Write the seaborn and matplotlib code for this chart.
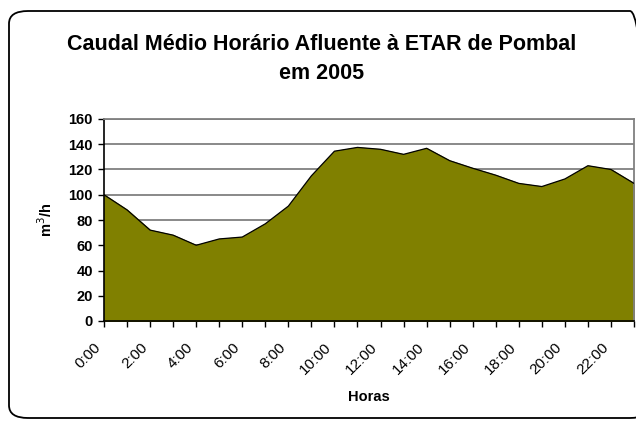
import matplotlib
matplotlib.use("Agg")
import matplotlib.pyplot as plt
import matplotlib.transforms as mtransforms
import seaborn as sns
import pandas as pd
from matplotlib.patches import FancyBboxPatch

horas = list(range(24))
caudal = [100, 88, 72, 68, 60, 65, 66.5, 77, 91, 115, 134.5, 137.5, 136, 132,
          136.8, 127, 121, 115.5, 109, 106.5, 112.5, 123, 120, 109]
tick_labels = [f"{h}:00" if h % 2 == 0 else "" for h in horas]

df = pd.DataFrame({"hora": horas, "caudal": caudal})

sns.set_theme(style="white")
plt.rcParams['font.family'] = ['Liberation Sans', 'DejaVu Sans']
plt.rcParams['text.color'] = 'black'
plt.rcParams['axes.labelcolor'] = 'black'
plt.rcParams['xtick.color'] = 'black'
plt.rcParams['ytick.color'] = 'black'

fig = plt.figure(figsize=(6.36, 4.21), dpi=100)
ax = fig.add_axes([104 / 636, 1 - 321 / 421, 530 / 636, 202 / 421])

# rounded frame around the whole chart
frame = FancyBboxPatch((9 / 636, 3 / 421), 640 / 636, 407 / 421,
                       boxstyle="round,pad=0,rounding_size=0.03",
                       transform=fig.transFigure, fill=False,
                       edgecolor="black", linewidth=1.3, zorder=0)
fig.patches.append(frame)

ax.fill_between(df["hora"], df["caudal"], 0, color="#808000", zorder=2)
sns.lineplot(data=df, x="hora", y="caudal", color="black", linewidth=0.9, ax=ax, zorder=3)

ax.set_xlim(0, 23)
ax.set_ylim(0, 160)
ax.set_yticks(range(0, 161, 20))
ax.yaxis.grid(True, color="#808080", linewidth=1.3, zorder=1)
ax.set_axisbelow(True)

ax.set_xticks(horas)
ax.set_xticklabels(tick_labels, rotation=45, ha="right", rotation_mode="anchor", fontsize=11)
ax.tick_params(axis="x", direction="out", length=4, width=1, bottom=True, pad=5)
ax.tick_params(axis="y", direction="out", length=4, width=1, left=True, pad=4)
# shift the rotated hour labels a bit left/down like the original
shift = mtransforms.ScaledTranslation(-0.10, -0.07, fig.dpi_scale_trans)
for t in ax.get_xticklabels():
    t.set_transform(t.get_transform() + shift)
for t in ax.get_yticklabels():
    t.set_fontweight("bold")
    t.set_fontsize(10.5)

for s in ["left", "bottom"]:
    ax.spines[s].set_color("black")
    ax.spines[s].set_linewidth(1.2)
for s in ["top", "right"]:
    ax.spines[s].set_color("#808080")
    ax.spines[s].set_linewidth(1.3)

ax.set_xlabel("Horas", fontweight="bold", fontsize=10.5, labelpad=9)
ax.set_ylabel("m$^3$/h", fontweight="bold", fontsize=10.5, labelpad=10)

fig.text(0.506, 1 - 59 / 421, "Caudal Médio Horário Afluente à ETAR de Pombal\nem 2005",
         ha="center", va="center", fontsize=15.5, fontweight="bold", linespacing=1.45)

fig.savefig("out.png", dpi=100)
